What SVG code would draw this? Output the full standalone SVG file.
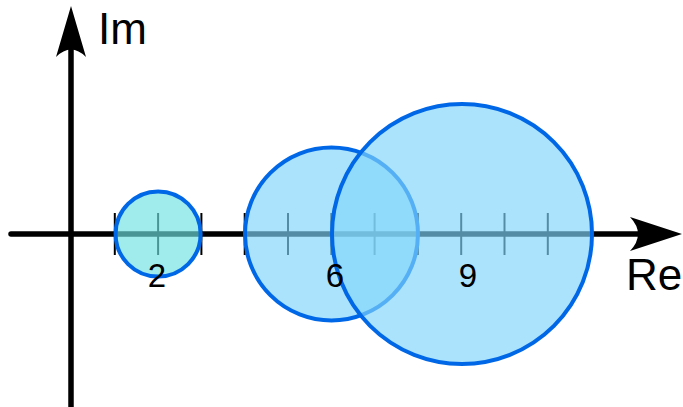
<svg xmlns="http://www.w3.org/2000/svg" width="683" height="407" viewBox="0 0 683 407">
<style>
.axis{stroke:#000;stroke-width:5.5;fill:none;stroke-linecap:round}
.tick{stroke:#000;stroke-width:2}
.disk{stroke:#0068e6;stroke-width:4}
.lbl{font-family:"Liberation Sans",Arial,sans-serif;fill:#000}
</style>
<g id="axes">
<line class="axis" x1="11" y1="234" x2="650" y2="234"/>
<line class="axis" x1="71" y1="410" x2="71" y2="40" style="stroke-linecap:butt"/>
<path d="M682,234 L630,217 Q646,234 630,251 Z" fill="#000"/>
<path d="M71,6 L56,57 Q71,42 86,57 Z" fill="#000"/>
<g id="ticks">
<line class="tick" x1="114.8" y1="213" x2="114.8" y2="255"/>
<line class="tick" x1="158.1" y1="213" x2="158.1" y2="255"/>
<line class="tick" x1="201.4" y1="213" x2="201.4" y2="255"/>
<line class="tick" x1="244.7" y1="213" x2="244.7" y2="255"/>
<line class="tick" x1="288" y1="213" x2="288" y2="255"/>
<line class="tick" x1="331.3" y1="213" x2="331.3" y2="255"/>
<line class="tick" x1="374.6" y1="213" x2="374.6" y2="255"/>
<line class="tick" x1="417.9" y1="213" x2="417.9" y2="255"/>
<line class="tick" x1="461.2" y1="213" x2="461.2" y2="255"/>
<line class="tick" x1="504.5" y1="213" x2="504.5" y2="255"/>
<line class="tick" x1="547.8" y1="213" x2="547.8" y2="255"/>
</g>
</g>
<g id="disk1"><circle class="disk" cx="158.1" cy="234" r="42.5" fill="#6fe0e0" fill-opacity="0.66"/></g>
<g id="disk2"><circle class="disk" cx="331.5" cy="234" r="86.5" fill="#81d4fa" fill-opacity="0.66"/></g>
<g id="disk3"><circle class="disk" cx="462" cy="234" r="130" fill="#81d4fa" fill-opacity="0.66"/></g>
<g id="labels">
<text class="lbl" x="98" y="44" font-size="44">Im</text>
<text class="lbl" x="626" y="290" font-size="44">Re</text>
<text class="lbl" x="157" y="287" font-size="33" text-anchor="middle">2</text>
<text class="lbl" x="335" y="287" font-size="33" text-anchor="middle">6</text>
<text class="lbl" x="468" y="287" font-size="33" text-anchor="middle">9</text>
</g>
</svg>
